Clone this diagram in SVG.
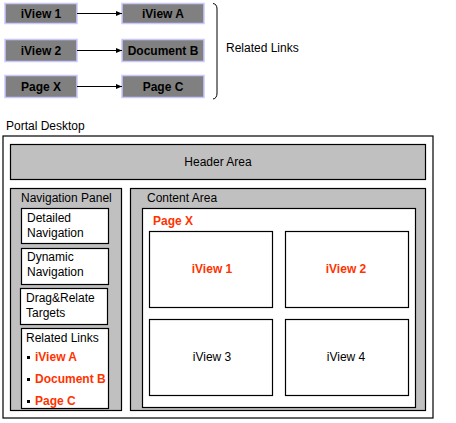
<svg xmlns="http://www.w3.org/2000/svg" width="456" height="423" viewBox="0 0 456 423">
<style>
text{font-family:"Liberation Sans",Arial,sans-serif;font-size:12px;fill:#000}
.tb{fill:#808080;stroke:#c8c8ff;stroke-width:1.5}
.tt{font-weight:bold;font-size:12px;text-anchor:middle}
.gray{fill:#c0c0c0;stroke:#000;stroke-width:1.2}
.white{fill:#fff;stroke:#000;stroke-width:1.2}
.red{fill:#ff3300;font-weight:bold}
.c{text-anchor:middle}
</style>
<defs>
<marker id="ah" markerWidth="6" markerHeight="6" refX="6" refY="3" orient="auto" markerUnits="userSpaceOnUse"><path d="M0,0.5 L6,3 L0,5.5 z" fill="#000"/></marker>
</defs>
<g id="top-iview1"><rect class="tb" x="5" y="3.5" width="72" height="20"/><text class="tt" x="41" y="18">iView 1</text></g>
<g id="top-iviewA"><rect class="tb" x="122" y="3.5" width="82" height="20"/><text class="tt" x="163" y="18">iView A</text></g>
<g id="top-iview2"><rect class="tb" x="5" y="39.5" width="72" height="22"/><text class="tt" x="41" y="55">iView 2</text></g>
<g id="top-docB"><rect class="tb" x="122" y="39.5" width="82" height="22"/><text class="tt" x="163" y="55">Document B</text></g>
<g id="top-pageX"><rect class="tb" x="5" y="75.5" width="72" height="22"/><text class="tt" x="41" y="91">Page X</text></g>
<g id="top-pageC"><rect class="tb" x="122" y="75.5" width="82" height="22"/><text class="tt" x="163" y="91">Page C</text></g>
<g id="connectors" stroke="#000" stroke-width="1" fill="none">
<line x1="77" y1="13.5" x2="122" y2="13.5" marker-end="url(#ah)"/>
<line x1="77" y1="50.5" x2="122" y2="50.5" marker-end="url(#ah)"/>
<line x1="77" y1="86.5" x2="122" y2="86.5" marker-end="url(#ah)"/>
</g>
<g id="brace"><path d="M213,3.5 Q217,4 217,9 L217,93 Q217,98.5 213,99" fill="none" stroke="#000" stroke-width="1"/><text x="226" y="52">Related Links</text></g>
<g id="portal-desktop">
<text x="6" y="130">Portal Desktop</text>
<rect x="3" y="136" width="430" height="282" fill="#fff" stroke="#000" stroke-width="1.2"/>
</g>
<g id="header-area"><rect class="gray" x="10.5" y="144.5" width="415" height="35"/><text class="c" x="218" y="166">Header Area</text></g>
<g id="navigation-panel">
<rect class="gray" x="10.5" y="188.5" width="111" height="222"/>
<text x="21" y="202">Navigation Panel</text>
<rect class="white" x="21.5" y="208.5" width="87" height="35"/>
<text x="27" y="222">Detailed</text><text x="27" y="237">Navigation</text>
<rect class="white" x="21.5" y="248.5" width="87" height="36"/>
<text x="27" y="261">Dynamic</text><text x="27" y="276">Navigation</text>
<rect class="white" x="20.5" y="288.5" width="87" height="36"/>
<text x="26" y="302">Drag&amp;Relate</text><text x="26" y="317">Targets</text>
<rect class="white" x="21.5" y="328.5" width="87" height="80"/>
<text x="26" y="342">Related Links</text>
<rect x="27" y="356" width="3" height="3" fill="#000"/><text class="red" x="35" y="361">iView A</text>
<rect x="27" y="378" width="3" height="3" fill="#000"/><text class="red" x="35" y="383">Document B</text>
<rect x="27" y="400" width="3" height="3" fill="#000"/><text class="red" x="35" y="405">Page C</text>
</g>
<g id="content-area">
<rect class="gray" x="130.5" y="188.5" width="295" height="222"/>
<text x="147" y="202">Content Area</text>
<rect class="white" x="142.5" y="208.5" width="273" height="199"/>
<text class="red" x="153" y="225">Page X</text>
</g>
<g id="iview1"><rect class="white" x="149.5" y="231.5" width="123" height="76"/><text class="red c" x="212" y="273">iView 1</text></g>
<g id="iview2"><rect class="white" x="285.5" y="231.5" width="123" height="76"/><text class="red c" x="346" y="273">iView 2</text></g>
<g id="iview3"><rect class="white" x="149.5" y="319.5" width="123" height="76"/><text class="c" x="212" y="361">iView 3</text></g>
<g id="iview4"><rect class="white" x="285.5" y="319.5" width="123" height="76"/><text class="c" x="346" y="361">iView 4</text></g>
</svg>
